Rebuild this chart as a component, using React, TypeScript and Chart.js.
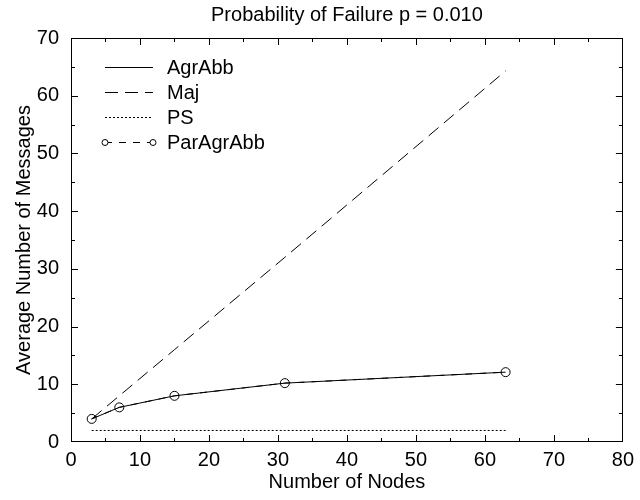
import React, { useEffect, useRef } from "react";
import { Chart, registerables } from "chart.js";

Chart.register(...registerables);

const nodes = [3, 7, 15, 31, 63];
const agrAbb = [4, 6, 8, 10.2, 12.1];
const maj = [4, 8, 16, 32, 64.3];
const ps = [2, 2, 2, 2, 2];
const parAgrAbb = [4, 6, 8, 10.2, 12.1];

const titleText = "Probability of Failure p = 0.010";
const xTitle = "Number of Nodes";
const yTitle = "Average Number of Messages";
const FONT = "'Liberation Sans', Arial, Helvetica, sans-serif";
const FS = 20;

const pts = (ys: number[]) => nodes.map((x, i) => ({ x, y: ys[i] }));

const framePlugin = {
  id: "frame",
  afterDraw(chart: any) {
    const { ctx, chartArea: a, scales } = chart;
    const xs = scales.x;
    const ys = scales.y;
    ctx.save();
    ctx.strokeStyle = "#000";
    ctx.lineWidth = 1;
    ctx.setLineDash([]);
    ctx.strokeRect(Math.round(a.left) + 0.5, Math.round(a.top) + 0.5, Math.round(a.right - a.left) - 1, Math.round(a.bottom - a.top) - 1);
    ctx.beginPath();
    for (let v = 5; v < 80; v += 5) {
      const len = v % 10 === 0 ? 7 : 4;
      const px = Math.round(xs.getPixelForValue(v)) + 0.5;
      ctx.moveTo(px, a.bottom);
      ctx.lineTo(px, a.bottom - len);
      ctx.moveTo(px, a.top);
      ctx.lineTo(px, a.top + len);
    }
    for (let v = 5; v < 70; v += 5) {
      const len = v % 10 === 0 ? 7 : 4;
      const py = Math.round(ys.getPixelForValue(v)) + 0.5;
      ctx.moveTo(a.left, py);
      ctx.lineTo(a.left + len, py);
      ctx.moveTo(a.right, py);
      ctx.lineTo(a.right - len, py);
    }
    ctx.stroke();

    // title
    ctx.fillStyle = "#000";
    ctx.font = `${FS}px ${FONT}`;
    ctx.textAlign = "center";
    ctx.textBaseline = "middle";
    ctx.fillText(titleText, (a.left + a.right) / 2, 15);

    // legend
    const x0 = 105, x1 = 153, tx = 167;
    chart.data.datasets.forEach((ds: any, i: number) => {
      const y = 67 + i * 25;
      ctx.save();
      ctx.strokeStyle = "#000";
      ctx.lineWidth = 1;
      ctx.setLineDash(ds.borderDash || []);
      ctx.beginPath();
      ctx.moveTo(x0, y + 0.5);
      ctx.lineTo(x1, y + 0.5);
      ctx.stroke();
      ctx.setLineDash([]);
      if (ds.pointRadius > 0) {
        [x0, x1].forEach((cx) => {
          ctx.beginPath();
          ctx.arc(cx, y + 0.5, 3, 0, Math.PI * 2);
          ctx.fillStyle = "#fff";
          ctx.fill();
          ctx.stroke();
        });
      }
      ctx.fillStyle = "#000";
      ctx.font = `${FS}px ${FONT}`;
      ctx.textAlign = "left";
      ctx.textBaseline = "middle";
      ctx.fillText(ds.label, tx, y + 1);
      ctx.restore();
    });
    ctx.restore();
  },
};

export default function App() {
  const ref = useRef<HTMLCanvasElement>(null);
  useEffect(() => {
    document.body.style.margin = "0";
    const chart = new Chart(ref.current as HTMLCanvasElement, {
      type: "line",
      data: {
        datasets: [
          { label: "AgrAbb", data: pts(agrAbb), borderColor: "#000", borderWidth: 1, pointRadius: 0, borderDash: [] },
          { label: "Maj", data: pts(maj), borderColor: "#000", borderWidth: 1, pointRadius: 0, borderDash: [13, 7] },
          { label: "PS", data: pts(ps), borderColor: "#000", borderWidth: 1, pointRadius: 0, borderDash: [2, 2] },
          {
            label: "ParAgrAbb", data: pts(parAgrAbb), borderColor: "#000", borderWidth: 1, borderDash: [7, 7],
            pointRadius: 4.5, pointStyle: "circle", pointBackgroundColor: "rgba(0,0,0,0)", pointBorderColor: "#000", pointBorderWidth: 1,
          },
        ] as any,
      },
      options: {
        animation: false,
        responsive: false,
        maintainAspectRatio: false,
        layout: { padding: { left: 0, right: 14, top: 38, bottom: 0 } },
        plugins: { legend: { display: false }, title: { display: false }, tooltip: { enabled: false } },
        elements: { line: { tension: 0 } },
        scales: {
          x: {
            type: "linear", min: 0, max: 80,
            grid: { display: false, drawTicks: false },
            border: { display: false },
            ticks: { stepSize: 10, color: "#000", font: { family: FONT, size: FS }, padding: 6 },
            title: { display: true, text: xTitle, color: "#000", font: { family: FONT, size: FS }, padding: { top: 0, bottom: 6 } },
            afterFit: (s: any) => { s.height = 58; },
          },
          y: {
            type: "linear", min: 0, max: 70,
            grid: { display: false, drawTicks: false },
            border: { display: false },
            ticks: { stepSize: 10, color: "#000", font: { family: FONT, size: FS }, padding: 12 },
            title: { display: true, text: yTitle, color: "#000", font: { family: FONT, size: FS }, padding: { top: 12, bottom: 0 } },
            afterFit: (s: any) => { s.width = 71; },
          },
        },
      } as any,
      plugins: [framePlugin],
    });
    return () => chart.destroy();
  }, []);
  return (
    <div style={{ position: "absolute", left: 0, top: 0, width: 640, height: 500 }}>
      <canvas ref={ref} width={640} height={500} style={{ width: 640, height: 500 }} />
    </div>
  );
}
